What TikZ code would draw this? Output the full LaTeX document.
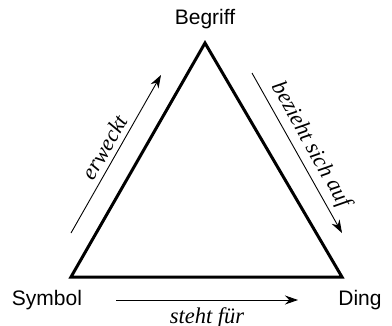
\documentclass[tikz,border=0pt]{standalone}
\usepackage{fontspec}
\setmainfont{Liberation Serif}
\newfontfamily\labelsans{Liberation Sans}
\usetikzlibrary{arrows.meta}
\tikzset{
  vertexlabel/.style={font=\labelsans\fontsize{21}{24}\selectfont, inner sep=0pt},
  edgelabel/.style={font=\itshape\fontsize{22.5}{25}\selectfont, inner sep=0pt},
  side/.style={line width=3pt, line join=miter},
  relarrow/.style={line width=0.9pt, -{Stealth[length=13pt,width=9pt]}}
}
\begin{document}
\begin{tikzpicture}[x=1pt,y=-1pt]
\useasboundingbox (0,0) rectangle (392,325);
\coordinate (top) at (205,43);
\coordinate (bl) at (71,277);
\coordinate (br) at (342,277);
\draw[side] (top) -- (br) -- (bl) -- cycle;
\node[vertexlabel] (begriff) at (205,19) {Begriff};
\node[vertexlabel] (symbol) at (47,300) {Symbol};
\node[vertexlabel] (ding) at (360,300) {Ding};
\coordinate (a1) at (71,233);
\coordinate (a2) at (161,75);
\coordinate (b1) at (252,73);
\coordinate (b2) at (342,233);
\coordinate (c1) at (116,300);
\coordinate (c2) at (298,300);
\draw[relarrow] (a1) -- node[edgelabel, sloped, above=5pt] (erweckt) {erweckt} (a2);
\draw[relarrow] (b1) -- node[edgelabel, sloped, above=5pt] (bezieht) {bezieht sich auf} (b2);
\draw[relarrow] (c1) -- node[edgelabel, below=7pt] (steht) {steht für} (c2);
\end{tikzpicture}
\end{document}
